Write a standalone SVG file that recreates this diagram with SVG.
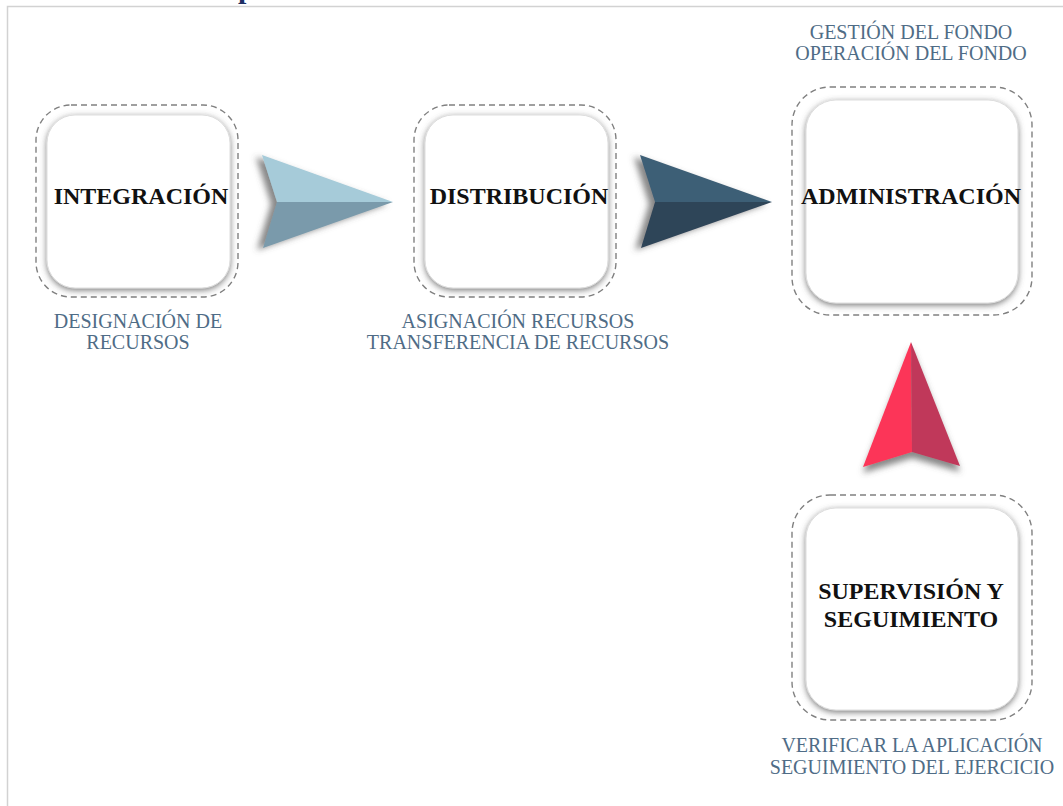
<svg xmlns="http://www.w3.org/2000/svg" width="1063" height="806" viewBox="0 0 1063 806">
<style>
.frame{fill:none;stroke:#d2d2d2;stroke-width:1.5}
.dash{fill:none;stroke:#808080;stroke-width:1.4;stroke-dasharray:6 4}
.inner{fill:#ffffff;stroke:#dddddd;stroke-width:1;filter:url(#boxshadow)}
.nt{font-family:"Liberation Serif",serif;font-weight:bold;font-size:24px;fill:#111111;text-anchor:middle}
.lb{font-family:"Liberation Serif",serif;font-size:20px;fill:#4f6c86;text-anchor:middle}
</style>
<defs>
<filter id="boxshadow" x="-20%" y="-20%" width="140%" height="140%">
<feDropShadow dx="0" dy="2" stdDeviation="3" flood-color="#555555" flood-opacity="0.75"/>
</filter>
<filter id="arrshadowL" x="-30%" y="-30%" width="160%" height="160%">
<feDropShadow dx="-6" dy="2" stdDeviation="3" flood-color="#555555" flood-opacity="0.7"/>
</filter>
<filter id="arrshadowD" x="-30%" y="-30%" width="160%" height="160%">
<feDropShadow dx="0" dy="6" stdDeviation="3" flood-color="#555555" flood-opacity="0.7"/>
</filter>
</defs>
<rect x="0" y="0" width="1063" height="806" fill="#ffffff"/>
<path class="frame" d="M7.5 806 V6.5 H1063"/>
<text x="238" y="-2" font-family="Liberation Serif,serif" font-weight="bold" font-size="30" fill="#1d2f63">p</text>

<g id="connectors">
<g id="arrow1" filter="url(#arrshadowL)">
<polygon points="262,155 393,202 277,202" fill="#a6cbd9"/>
<polygon points="277,202 393,202 263,248" fill="#7a9aab"/>
</g>
<g id="arrow2" filter="url(#arrshadowL)">
<polygon points="640,155 772,202 655,202" fill="#3e5f76"/>
<polygon points="655,202 772,202 641,248" fill="#2e4459"/>
</g>
<g id="arrow3" filter="url(#arrshadowD)">
<polygon points="911,342 912,452 863,467" fill="#fc3558"/>
<polygon points="911,342 960,466 912,452" fill="#c0385a"/>
</g>
</g>

<g id="node-integracion">
<rect class="dash" x="36" y="105" width="202" height="192" rx="35"/>
<rect class="inner" x="47" y="115" width="183" height="173" rx="28"/>
<text class="nt" x="141" y="204">INTEGRACIÓN</text>
<text class="lb" x="138" y="328">DESIGNACIÓN DE</text>
<text class="lb" x="138" y="349">RECURSOS</text>
</g>

<g id="node-distribucion">
<rect class="dash" x="414" y="105" width="202" height="192" rx="35"/>
<rect class="inner" x="425" y="115" width="183" height="173" rx="28"/>
<text class="nt" x="519" y="204">DISTRIBUCIÓN</text>
<text class="lb" x="518" y="328">ASIGNACIÓN RECURSOS</text>
<text class="lb" x="518" y="349">TRANSFERENCIA DE RECURSOS</text>
</g>

<g id="node-administracion">
<text class="lb" x="911" y="39">GESTIÓN DEL FONDO</text>
<text class="lb" x="911" y="60">OPERACIÓN DEL FONDO</text>
<rect class="dash" x="792" y="87" width="240" height="228" rx="38"/>
<rect class="inner" x="806" y="100" width="212" height="203" rx="30"/>
<text class="nt" x="911" y="204">ADMINISTRACIÓN</text>
</g>

<g id="node-supervision">
<rect class="dash" x="792" y="495" width="240" height="225" rx="38"/>
<rect class="inner" x="806" y="508" width="212" height="202" rx="30"/>
<text class="nt" x="911" y="599">SUPERVISIÓN Y</text>
<text class="nt" x="911" y="627">SEGUIMIENTO</text>
<text class="lb" x="912" y="752">VERIFICAR LA APLICACIÓN</text>
<text class="lb" x="912" y="774">SEGUIMIENTO DEL EJERCICIO</text>
</g>
</svg>
